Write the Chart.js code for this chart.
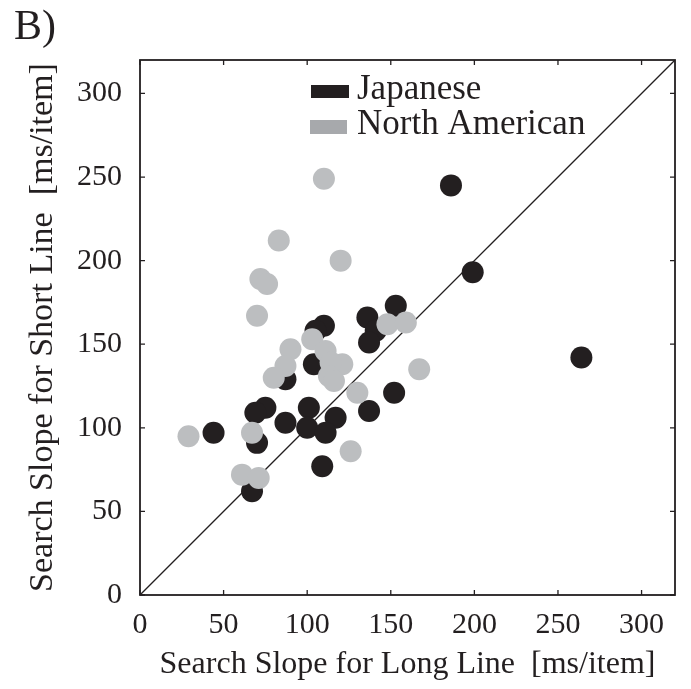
<!DOCTYPE html>
<html>
<head>
<meta charset="utf-8">
<script src="https://cdn.jsdelivr.net/npm/chart.js@4.4.1/dist/chart.umd.min.js"></script>
<style>
  html, body { margin: 0; padding: 0; background: #ffffff; }
  #wrap { width: 691px; height: 689px; position: relative; }
</style>
</head>
<body>
<div id="wrap"><canvas id="c" width="691" height="689"></canvas></div>
<script>
// ---- data ----
const SERIES_NAMES = ['Japanese', 'North American'];
const PANEL_LABEL = 'B)';
const X_TITLE = 'Search Slope for Long Line  [ms/item]';
const Y_TITLE = 'Search Slope for Short Line  [ms/item]';
const X_TICKS = [0, 50, 100, 150, 200, 250, 300];
const Y_TICKS = [0, 50, 100, 150, 200, 250, 300];
const AXIS_RANGE = [0, 320];
const DIAGONAL = [0, 320];

const japaneseLong  = [186, 199, 264, 153, 136, 141, 137, 110, 105, 104, 87, 75, 69, 87, 101, 100, 117, 111, 137, 152, 109, 44, 70, 67];
const japaneseShort = [245, 193, 142, 173, 166, 158, 151, 161, 158, 138, 129, 112, 109, 103, 112, 100, 106, 97, 110, 121, 77, 97, 91, 62];

const northLong  = [110, 83, 120, 72, 76, 70, 148, 159, 103, 90, 111, 121, 114, 87, 80, 113, 116, 167, 130, 29, 67, 126, 61, 71];
const northShort = [249, 212, 200, 189, 186, 167, 162, 163, 153, 147, 146, 138, 139, 137, 130, 131, 128, 135, 121, 95, 97, 86, 72, 70];

// ---- styling ----
const INK = '#231f20';
const GREY = '#bcbec0';
const GREY_SWATCH = '#a7a9ac';
const FONT = '"Liberation Serif", "Times New Roman", serif';

const toPts = (xs, ys) => xs.map((x, i) => ({ x: x, y: ys[i] }));

const framePlugin = {
  id: 'frameAndLegend',
  afterDraw(chart) {
    const ctx = chart.ctx;
    const a = chart.chartArea;
    const xs = chart.scales.x, ys = chart.scales.y;
    ctx.save();
    // frame
    ctx.strokeStyle = INK;
    ctx.lineWidth = 1.8;
    ctx.strokeRect(a.left, a.top, a.right - a.left, a.bottom - a.top);
    // inward ticks on all sides
    ctx.lineWidth = 1.3;
    const tl = 5;
    ctx.beginPath();
    X_TICKS.forEach(v => {
      const px = xs.getPixelForValue(v);
      ctx.moveTo(px, a.bottom); ctx.lineTo(px, a.bottom - tl);
      ctx.moveTo(px, a.top); ctx.lineTo(px, a.top + tl);
    });
    Y_TICKS.forEach(v => {
      const py = ys.getPixelForValue(v);
      ctx.moveTo(a.left, py); ctx.lineTo(a.left + tl, py);
      ctx.moveTo(a.right, py); ctx.lineTo(a.right - tl, py);
    });
    ctx.stroke();

    // legend
    const items = [
      { text: SERIES_NAMES[0], color: INK, rect: [311, 85, 38, 13], base: 99 },
      { text: SERIES_NAMES[1], color: GREY_SWATCH, rect: [310, 120, 37, 14], base: 134 }
    ];
    ctx.font = '35px ' + FONT;
    ctx.textBaseline = 'alphabetic';
    ctx.textAlign = 'left';
    items.forEach(it => {
      ctx.fillStyle = it.color;
      ctx.fillRect(it.rect[0], it.rect[1], it.rect[2], it.rect[3]);
      ctx.fillStyle = INK;
      ctx.fillText(it.text, 357, it.base);
    });

    // panel label
    ctx.font = '42px ' + FONT;
    ctx.fillStyle = INK;
    ctx.fillText(PANEL_LABEL, 14, 39);
    ctx.restore();
  }
};

new Chart(document.getElementById('c'), {
  type: 'scatter',
  data: {
    datasets: [
      {
        label: SERIES_NAMES[0],
        data: toPts(japaneseLong, japaneseShort),
        backgroundColor: INK,
        borderWidth: 0,
        pointRadius: 11,
        pointHoverRadius: 11,
        order: 1
      },
      {
        label: SERIES_NAMES[1],
        data: toPts(northLong, northShort),
        backgroundColor: GREY,
        borderWidth: 0,
        pointRadius: 11,
        pointHoverRadius: 11,
        order: 0
      },
      {
        label: 'identity',
        type: 'line',
        data: [{ x: DIAGONAL[0], y: DIAGONAL[0] }, { x: DIAGONAL[1], y: DIAGONAL[1] }],
        borderColor: INK,
        borderWidth: 1.3,
        pointRadius: 0,
        fill: false,
        order: 2
      }
    ]
  },
  options: {
    responsive: false,
    animation: false,
    events: [],
    layout: { padding: { top: 60, right: 16, left: 0, bottom: 0 } },
    plugins: { legend: { display: false }, tooltip: { enabled: false } },
    scales: {
      x: {
        type: 'linear',
        position: 'bottom',
        min: AXIS_RANGE[0],
        max: AXIS_RANGE[1],
        afterBuildTicks(s) { s.ticks = X_TICKS.map(v => ({ value: v })); },
        afterFit(s) { s.height = 94; },
        grid: { display: false, drawTicks: false },
        border: { display: false },
        ticks: {
          autoSkip: false,
          maxRotation: 0,
          padding: 12,
          color: INK,
          font: { family: FONT, size: 30, lineHeight: 1.2 }
        },
        title: {
          display: true,
          text: X_TITLE,
          color: INK,
          font: { family: FONT, size: 32, lineHeight: 1.2 },
          padding: { top: 0, bottom: 5 }
        }
      },
      y: {
        type: 'linear',
        min: AXIS_RANGE[0],
        max: AXIS_RANGE[1],
        afterBuildTicks(s) { s.ticks = Y_TICKS.map(v => ({ value: v })); },
        afterFit(s) { s.width = 140; },
        grid: { display: false, drawTicks: false },
        border: { display: false },
        ticks: {
          autoSkip: false,
          padding: 18,
          color: INK,
          font: { family: FONT, size: 30, lineHeight: 1.2 }
        },
        title: {
          display: true,
          text: Y_TITLE,
          color: INK,
          font: { family: FONT, size: 34, lineHeight: 1.2 },
          padding: { top: 23, bottom: 0 }
        }
      }
    }
  },
  plugins: [framePlugin]
});
</script>
</body>
</html>
